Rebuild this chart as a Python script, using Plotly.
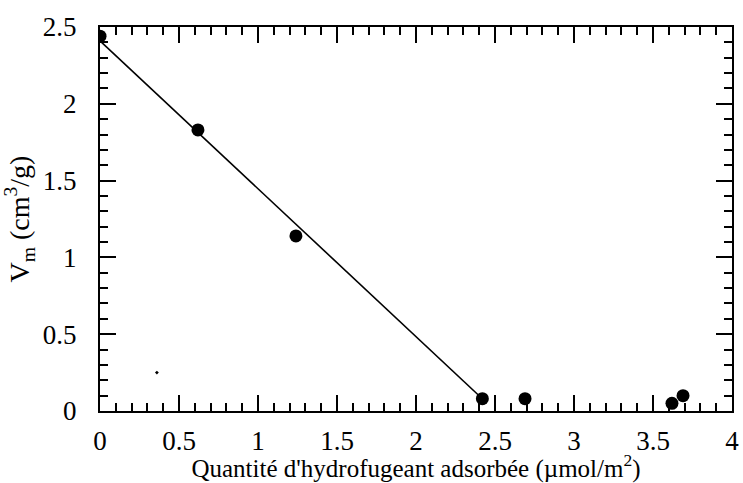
import plotly.graph_objects as go

# measured points
x_pts = [0.0, 0.62, 1.24, 2.42, 2.69, 3.62, 3.69]
y_pts = [2.44, 1.83, 1.14, 0.08, 0.08, 0.05, 0.10]

# fitted line (endpoints)
x_fit = [0.0, 2.43]
y_fit = [2.41, 0.07]

# small stray mark in the original
x_speck = [0.36]
y_speck = [0.25]

x_range = [0, 4]
y_range = [0, 2.5]

fnt = "Liberation Serif, Times New Roman, serif"

fig = go.Figure()
fig.add_trace(go.Scatter(x=x_fit, y=y_fit, mode="lines",
                         line=dict(color="black", width=1.6), showlegend=False))
fig.add_trace(go.Scatter(x=x_pts, y=y_pts, mode="markers",
                         marker=dict(color="black", size=13), showlegend=False))
# speck sits on the overlay axes (same ranges) so those get drawn too
fig.add_trace(go.Scatter(x=x_speck, y=y_speck, mode="markers", xaxis="x2", yaxis="y2",
                         marker=dict(color="black", size=3, symbol="diamond"), showlegend=False))

major = dict(showgrid=False, zeroline=False, showline=True, linecolor="black", linewidth=2,
             mirror="ticks", ticks="inside", ticklen=16, tickwidth=2, tickcolor="black",
             tickfont=dict(family=fnt, size=27, color="black"), automargin=False)
minor = dict(showgrid=False, zeroline=False, showline=False, mirror="ticks", ticks="inside",
             ticklen=8, tickwidth=1.5, tickcolor="black", showticklabels=False, dtick=0.1,
             tick0=0)

fig.update_layout(
    width=743, height=483, plot_bgcolor="white", paper_bgcolor="white",
    margin=dict(l=100, r=11, t=27, b=72),
    xaxis=dict(major, range=x_range, tick0=0, dtick=0.5, ticklabelstandoff=5,
               title=dict(text="Quantité d'hydrofugeant adsorbée (µmol/m<sup>2</sup>)",
                          font=dict(family=fnt, size=25, color="black"), standoff=5)),
    yaxis=dict(major, range=y_range, tick0=0, dtick=0.5, ticklabelstandoff=16,
               title=dict(text="V<sub>m</sub> (cm<sup>3</sup>/g)",
                          font=dict(family=fnt, size=28, color="black"), standoff=8)),
    xaxis2=dict(minor, range=x_range, overlaying="x", anchor="y2", side="bottom"),
    yaxis2=dict(minor, range=y_range, overlaying="y", anchor="x2", side="left"),
)

# page margin would push the 743x483 figure off the window
fig.write_html("out.html", config={"displayModeBar": False},
               post_script="document.body.style.margin='0';")
